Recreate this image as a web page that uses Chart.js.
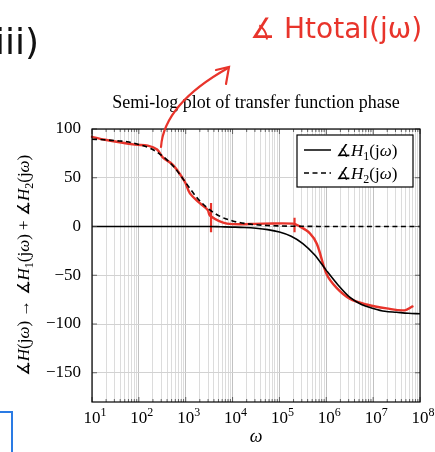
<!DOCTYPE html>
<html>
<head>
<meta charset="utf-8">
<script src="https://cdn.jsdelivr.net/npm/chart.js@4"></script>
<style>
  html, body { margin: 0; padding: 0; background: #fff; }
  #wrap { width: 435px; height: 452px; }
</style>
</head>
<body>
<div id="wrap"><canvas id="grafica" width="435" height="452"></canvas></div>
<script>
// --------------------- DATOS ---------------------
// frecuencias (cuartos de decada)
const omega = [10, 17.8, 31.6, 56.2, 100, 178, 316, 562, 1e3, 1.78e3, 3.16e3, 5.62e3,
  1e4, 1.78e4, 3.16e4, 5.62e4, 1e5, 1.78e5, 3.16e5, 5.62e5, 1e6, 1.78e6, 3.16e6, 5.62e6,
  1e7, 1.78e7, 3.16e7, 5.62e7, 1e8];
// fase de H1 (linea continua)
const faseH1 = [0, 0, 0, 0, 0, 0, 0, 0, 0, 0, 0, -0.3,
  -0.6, -1, -1.8, -3.2, -5.7, -10, -17.5, -29, -45, -60, -72.5, -80,
  -84, -87, -88, -89, -89.5];
// fase de H2 (linea discontinua)
const faseH2 = [89.5, 89, 88, 87, 84, 80, 72.5, 61, 45, 29, 17.5, 10,
  5.7, 3.2, 1.8, 1, 0.6, 0.3, 0.2, 0.1, 0, 0, 0, 0,
  0, 0, 0, 0, 0];
// trazo rojo a mano (fase total)
const omegaRojo = [10, 19, 83, 155, 245, 324, 537, 955, 1230, 2000, 2950, 3310, 7590,
  44700, 195000, 250000, 447000, 631000, 1.02e6, 1.66e6, 3.16e6, 7.24e6, 1.95e7, 4.68e7, 6.92e7];
const faseRojo = [92, 89, 84, 83, 79, 71, 63, 46, 34, 24, 17, 11, 3,
  3, 3, 1, -7, -18, -49, -63, -74, -80, -84, -86, -82];
// marcas rojas verticales
const marcaA = [[3470, 24], [3470, -6]];
const marcaB = [[210000, 9], [210000, -6]];

// ticks
const xTickExps = [1, 2, 3, 4, 5, 6, 7, 8];
const yTicks = [-150, -100, -50, 0, 50, 100];

const SERIF = '"Liberation Serif", "DejaVu Serif", serif';
const ROJO = '#e8342b';

// --------------------- TEXTO CON SUB/SUPERINDICES ---------------------
function fuente(estilo, tam) {
  if (estilo === 'i') return 'italic ' + tam + 'px ' + SERIF;
  if (estilo === 'sub' || estilo === 'sup') return Math.round(tam * 0.7) + 'px ' + SERIF;
  return tam + 'px ' + SERIF;
}
function anchoRuns(c, runs, tam) {
  let w = 0;
  runs.forEach(r => { c.font = fuente(r[1], tam); w += c.measureText(r[0]).width; });
  return w;
}
function dibujarRuns(c, runs, x, y, tam, align) {
  const total = anchoRuns(c, runs, tam);
  let cx = align === 'left' ? x : x - total / 2;
  c.textAlign = 'left';
  c.textBaseline = 'alphabetic';
  runs.forEach(r => {
    c.font = fuente(r[1], tam);
    let dy = 0;
    if (r[1] === 'sub') dy = tam * 0.25;
    if (r[1] === 'sup') dy = -tam * 0.4;
    c.fillText(r[0], cx, y + dy);
    cx += c.measureText(r[0]).width;
  });
}

// --------------------- PLUGIN DE DECORACION ---------------------
const decoracion = {
  id: 'decoracion',
  afterDatasetsDraw(chart) {
    const c = chart.ctx;
    const a = chart.chartArea;
    const xs = chart.scales.x;
    const ys = chart.scales.y;
    c.save();

    // marcas interiores de los ejes
    c.strokeStyle = '#444';
    c.lineWidth = 0.8;
    xs.ticks.forEach(t => {
      const px = xs.getPixelForValue(t.value);
      const mayor = Math.abs(Math.log10(t.value) - Math.round(Math.log10(t.value))) < 1e-6;
      const l = mayor ? 5 : 3;
      c.beginPath();
      c.moveTo(px, a.bottom); c.lineTo(px, a.bottom - l);
      c.moveTo(px, a.top); c.lineTo(px, a.top + l);
      c.stroke();
    });
    yTicks.forEach(v => {
      const py = ys.getPixelForValue(v);
      c.beginPath();
      c.moveTo(a.left, py); c.lineTo(a.left + 5, py);
      c.moveTo(a.right, py); c.lineTo(a.right - 5, py);
      c.stroke();
    });

    // marco
    c.strokeStyle = '#000';
    c.lineWidth = 1.2;
    c.strokeRect(a.left, a.top, a.right - a.left, a.bottom - a.top);

    // etiquetas del eje x (10^n)
    c.fillStyle = '#000';
    xTickExps.forEach(e => {
      const px = xs.getPixelForValue(Math.pow(10, e));
      dibujarRuns(c, [['10', 'n'], [String(e), 'sup']], px + 3, a.bottom + 21, 17);
    });
    // titulo eje x
    dibujarRuns(c, [['ω', 'i']], (a.left + a.right) / 2, a.bottom + 40, 18);

    // titulo eje y
    c.save();
    c.translate(24, (a.top + a.bottom) / 2);
    c.rotate(-Math.PI / 2);
    dibujarRuns(c, [['∡', 'n'], ['H', 'i'], ['(j', 'n'], ['ω', 'i'], [') → ∡', 'n'], ['H', 'i'], ['1', 'sub'],
      ['(j', 'n'], ['ω', 'i'], [') + ∡', 'n'], ['H', 'i'], ['2', 'sub'], ['(j', 'n'], ['ω', 'i'], [')', 'n']], 0, 5, 17);
    c.restore();

    // titulo
    dibujarRuns(c, [['Semi-log plot of transfer function phase', 'n']], (a.left + a.right) / 2, 108, 18);

    // leyenda
    const lx = 297, ly = 135, lw = 116, lh = 52;
    c.fillStyle = '#fff';
    c.fillRect(lx, ly, lw, lh);
    c.strokeStyle = '#000';
    c.lineWidth = 1.2;
    c.strokeRect(lx, ly, lw, lh);
    c.lineWidth = 1.5;
    c.beginPath(); c.moveTo(lx + 7, ly + 15); c.lineTo(lx + 34, ly + 15); c.stroke();
    c.setLineDash([5, 3.5]);
    c.beginPath(); c.moveTo(lx + 7, ly + 38); c.lineTo(lx + 34, ly + 38); c.stroke();
    c.setLineDash([]);
    c.fillStyle = '#000';
    dibujarRuns(c, [['∡', 'n'], ['H', 'i'], ['1', 'sub'], ['(j', 'n'], ['ω', 'i'], [')', 'n']], lx + 39, ly + 21, 17, 'left');
    dibujarRuns(c, [['∡', 'n'], ['H', 'i'], ['2', 'sub'], ['(j', 'n'], ['ω', 'i'], [')', 'n']], lx + 39, ly + 44, 17, 'left');

    // anotaciones a mano
    c.fillStyle = '#111';
    c.font = '36px "DejaVu Sans", sans-serif';
    c.fillText('iii)', -5, 54);
    c.fillStyle = ROJO;
    c.font = '28px "DejaVu Sans", sans-serif';
    c.fillText('∡ Htotal(jω)', 250, 38);

    // flecha roja
    c.strokeStyle = ROJO;
    c.lineWidth = 2.2;
    c.lineCap = 'round';
    c.beginPath();
    c.moveTo(161, 147);
    c.quadraticCurveTo(164, 104, 228, 68);
    c.stroke();
    c.beginPath();
    c.moveTo(216, 70); c.lineTo(229, 67); c.lineTo(226, 84);
    c.stroke();

    // corchete azul
    c.strokeStyle = '#2a7be4';
    c.lineWidth = 2;
    c.lineCap = 'butt';
    c.beginPath();
    c.moveTo(0, 412); c.lineTo(12, 412); c.lineTo(12, 452);
    c.stroke();

    c.restore();
  }
};

// --------------------- GRAFICA ---------------------
const puntos = (xs, ys) => xs.map((w, i) => ({ x: w, y: ys[i] }));
const ticksX = [];
for (let e = 1; e <= 8; e++) {
  for (let m = 1; m <= 9; m++) {
    if (e === 8 && m > 1) break;
    ticksX.push({ value: m * Math.pow(10, e) });
  }
}

new Chart(document.getElementById('grafica'), {
  type: 'line',
  data: {
    datasets: [
      {
        label: 'H1',
        data: puntos(omega, faseH1),
        borderColor: '#000',
        borderWidth: 1.6,
        pointRadius: 0,
        cubicInterpolationMode: 'monotone'
      },
      {
        label: 'H2',
        data: puntos(omega, faseH2),
        borderColor: '#000',
        borderWidth: 1.6,
        borderDash: [5, 3.5],
        pointRadius: 0,
        cubicInterpolationMode: 'monotone'
      },
      {
        label: 'total',
        data: puntos(omegaRojo, faseRojo),
        borderColor: ROJO,
        borderWidth: 2.4,
        pointRadius: 0,
        tension: 0.35,
        borderCapStyle: 'round',
        clip: false
      },
      {
        label: 'marcaA',
        data: marcaA.map(p => ({ x: p[0], y: p[1] })),
        borderColor: ROJO,
        borderWidth: 2.2,
        pointRadius: 0
      },
      {
        label: 'marcaB',
        data: marcaB.map(p => ({ x: p[0], y: p[1] })),
        borderColor: ROJO,
        borderWidth: 2.2,
        pointRadius: 0
      }
    ]
  },
  options: {
    responsive: false,
    animation: false,
    layout: { padding: { left: 0, right: 15, top: 129, bottom: 0 } },
    plugins: {
      legend: { display: false },
      title: { display: false },
      tooltip: { enabled: false }
    },
    scales: {
      x: {
        type: 'logarithmic',
        min: 10,
        max: 1e8,
        afterBuildTicks: (s) => { s.ticks = ticksX.map(t => ({ value: t.value })); },
        afterFit: (s) => { s.height = 50; },
        ticks: { display: false },
        border: { display: false },
        grid: {
          drawTicks: false,
          lineWidth: 1,
          color: (ctx) => {
            const v = ctx.tick ? ctx.tick.value : 1;
            const l = Math.log10(v);
            return Math.abs(l - Math.round(l)) < 1e-6 ? '#c2c2c2' : '#dcdcdc';
          }
        }
      },
      y: {
        min: -180,
        max: 100,
        afterBuildTicks: (s) => { s.ticks = yTicks.map(v => ({ value: v })); },
        afterFit: (s) => { s.width = 92; },
        border: { display: false },
        grid: { drawTicks: false, color: '#d2d2d2', lineWidth: 1 },
        ticks: {
          padding: 11,
          color: '#000',
          font: { family: SERIF, size: 17 },
          callback: (v) => (v < 0 ? '\u2212' + Math.abs(v) : String(v))
        }
      }
    }
  },
  plugins: [decoracion]
});
</script>
</body>
</html>
